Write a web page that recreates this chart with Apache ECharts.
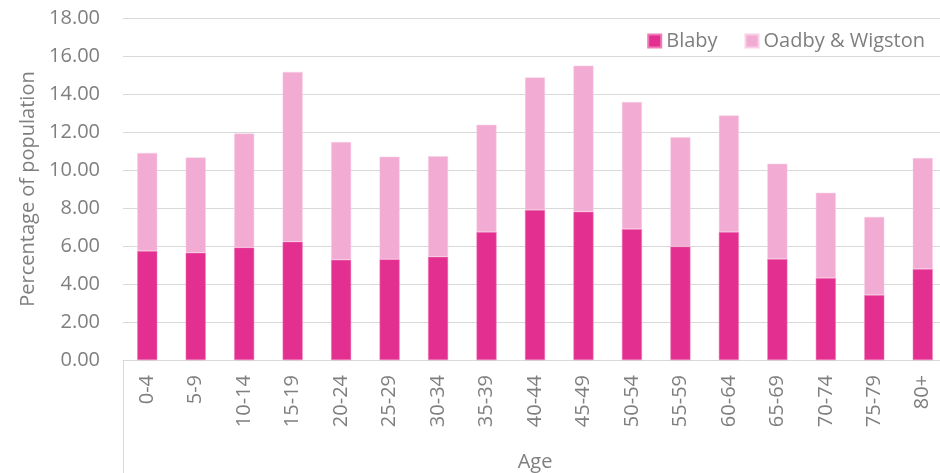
<!DOCTYPE html>
<html>
<head>
<meta charset="utf-8">
<script src="https://cdn.jsdelivr.net/npm/echarts@6/dist/echarts.min.js"></script>
<style>
  html, body { margin: 0; padding: 0; background: #fff; }
  #chart { width: 940px; height: 473px; }
</style>
</head>
<body>
<div id="chart"></div>
<script>
const ageGroups = ['0-4', '5-9', '10-14', '15-19', '20-24', '25-29', '30-34', '35-39', '40-44',
  '45-49', '50-54', '55-59', '60-64', '65-69', '70-74', '75-79', '80+']
const blaby = [5.74, 5.64, 5.92, 6.22, 5.27, 5.30, 5.43, 6.74, 7.90, 7.80, 6.89, 5.97, 6.74, 5.32, 4.32, 3.42, 4.79]
const oadbyWigston = [5.16, 5.02, 6.00, 8.94, 6.20, 5.40, 5.30, 5.64, 6.97, 7.69, 6.69, 5.76, 6.13, 5.01, 4.48, 4.11, 5.84]

const textColor = '#7f7f7f'
const font = 'Open Sans'

const chart = echarts.init(document.getElementById('chart'))

const option = {
  animation: false,
  backgroundColor: '#fff',
  textStyle: { fontFamily: font },
  grid: {
    left: 123,
    top: 18,
    width: 824,
    height: 342,
    containLabel: false,
    outerBoundsMode: 'none'
  },
  legend: {
    data: ['Blaby', 'Oadby & Wigston'],
    right: 10,
    top: 26,
    itemWidth: 13,
    itemHeight: 13,
    itemGap: 27,
    icon: 'rect',
    textStyle: { color: textColor, fontSize: 20, fontFamily: font }
  },
  xAxis: {
    type: 'category',
    data: ageGroups,
    name: 'Age',
    nameLocation: 'middle',
    nameGap: 92,
    nameTextStyle: { color: textColor, fontSize: 20, fontFamily: font },
    axisLine: { lineStyle: { color: '#d9d9d9', width: 1 } },
    axisTick: { show: false },
    axisLabel: {
      rotate: 90,
      margin: 15,
      color: textColor,
      fontSize: 20,
      fontFamily: font,
      interval: 0
    }
  },
  yAxis: {
    type: 'value',
    min: 0,
    max: 18,
    interval: 2,
    name: 'Percentage of population',
    nameLocation: 'middle',
    nameGap: 85,
    nameTextStyle: { color: textColor, fontSize: 20, fontFamily: font },
    axisLine: { show: false },
    axisTick: { show: false },
    axisLabel: {
      margin: 23,
      color: textColor,
      fontSize: 20,
      fontFamily: font,
      formatter: v => v.toFixed(2)
    },
    splitLine: { lineStyle: { color: '#d9d9d9', width: 1 } }
  },
  graphic: [
    {
      type: 'line',
      shape: { x1: 123.5, y1: 360, x2: 123.5, y2: 473 },
      style: { stroke: '#d9d9d9', lineWidth: 1 }
    }
  ],
  series: [
    {
      name: 'Blaby',
      type: 'bar',
      stack: 'total',
      barWidth: 20,
      data: blaby,
      itemStyle: { color: '#e32f8f', borderColor: '#f07ab8', borderWidth: 0.5 }
    },
    {
      name: 'Oadby & Wigston',
      type: 'bar',
      stack: 'total',
      barWidth: 20,
      data: oadbyWigston,
      itemStyle: { color: '#f2abd3', borderColor: '#f8d0e6', borderWidth: 0.5 }
    }
  ]
}

chart.setOption(option)
</script>
</body>
</html>
